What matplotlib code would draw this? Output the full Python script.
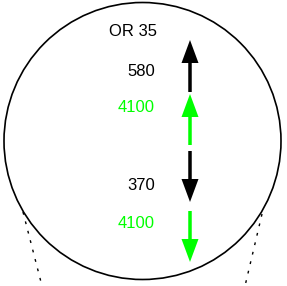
import matplotlib.pyplot as plt
from matplotlib.patches import Circle, FancyArrow

plt.rcParams['font.family'] = ['Liberation Sans', 'DejaVu Sans']

# diagram content
title = "OR 35"
labels = ["580", "4100", "370", "4100"]
label_colors = ["black", "#00ff00", "black", "#00ff00"]
directions = ["up", "up", "down", "down"]

# layout in pixel coordinates
label_y = [71, 108, 185, 224]
arrow_spans = [(92, 40), (145, 94), (151, 202), (211, 262)]
arrow_x = 190

fig = plt.figure(figsize=(2.87, 2.86), dpi=100)
ax = fig.add_axes([0, 0, 1, 1])
ax.set_xlim(0, 287)
ax.set_ylim(286, 0)
ax.set_aspect('equal')
ax.axis('off')

# dotted guide lines behind the circle
ax.plot([23, 42], [212, 286], color='black', lw=1, linestyle=(0, (2, 5)))
ax.plot([262, 245], [214, 286], color='black', lw=1, linestyle=(0, (2, 5)))

ax.add_patch(Circle((142.5, 141), 138.5, facecolor='white', edgecolor='black', lw=1.2, zorder=2))

ax.text(157, 32, title, ha='right', va='center', fontsize=12, color='black', zorder=3)

for lab, col, d, y, (y0, y1) in zip(labels, label_colors, directions, label_y, arrow_spans):
    ax.text(155, y, lab, ha='right', va='center', fontsize=12, color=col, zorder=3)
    arr = FancyArrow(arrow_x, y0, 0, y1 - y0, width=3.5, head_width=17, head_length=23,
                     length_includes_head=True, color=col, lw=0, zorder=3)
    ax.add_patch(arr)

fig.savefig('out.png', dpi=100)
